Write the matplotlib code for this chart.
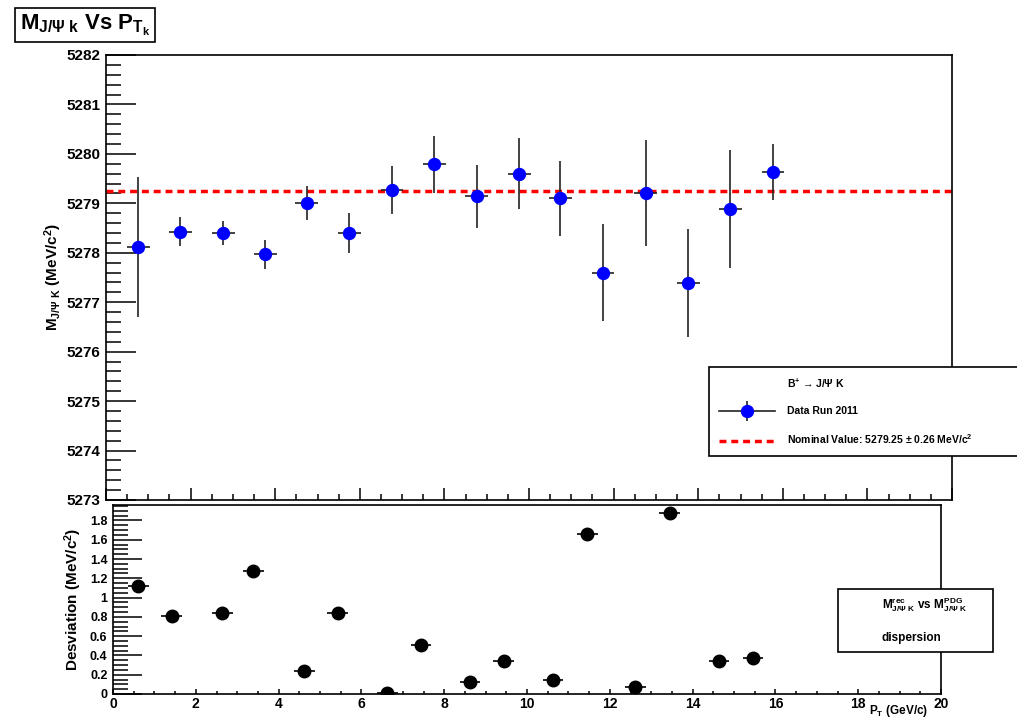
import matplotlib
matplotlib.use("Agg")
import matplotlib.pyplot as plt
from matplotlib.ticker import MultipleLocator
from matplotlib.lines import Line2D
from matplotlib.patches import Rectangle

plt.rcParams["font.family"] = ["Liberation Sans", "DejaVu Sans"]
plt.rcParams["font.weight"] = "bold"
plt.rcParams["axes.labelweight"] = "bold"
plt.rcParams["mathtext.fontset"] = "custom"
plt.rcParams["mathtext.rm"] = "Liberation Sans:bold"
plt.rcParams["mathtext.it"] = "Liberation Sans:bold"
plt.rcParams["mathtext.bf"] = "Liberation Sans:bold"

# top panel: reconstructed B+ mass per pT bin
pt_top = [0.76, 1.76, 2.77, 3.77, 4.74, 5.75, 6.76, 7.76, 8.76, 9.77,
          10.74, 11.75, 12.76, 13.77, 14.76, 15.77]
pt_top_err = [0.27] * 16
mass = [5278.12, 5278.43, 5278.40, 5277.97, 5279.01, 5278.40, 5279.27, 5279.79,
        5279.14, 5279.60, 5279.10, 5277.60, 5279.21, 5277.39, 5278.89, 5279.63]
mass_err = [1.42, 0.29, 0.25, 0.29, 0.35, 0.41, 0.49, 0.58,
            0.64, 0.72, 0.76, 0.98, 1.08, 1.10, 1.19, 0.56]
nominal = 5279.25

# bottom panel: deviation from PDG value
pt_bot = [0.61, 1.42, 2.64, 3.39, 4.62, 5.43, 6.63, 7.44,
          8.62, 9.44, 10.63, 11.46, 12.62, 13.45, 14.64, 15.46]
pt_bot_err = [0.25] * 16
dev = [1.12, 0.81, 0.84, 1.28, 0.24, 0.84, 0.01, 0.51,
       0.12, 0.34, 0.15, 1.66, 0.07, 1.88, 0.34, 0.37]
dev_err = [0.05] * 16

W, H = 1017, 717
fig = plt.figure(figsize=(W / 100, H / 100), dpi=100)

ax1 = fig.add_axes([106 / W, 1 - 500 / H, 846 / W, 445 / H])
ax2 = fig.add_axes([113 / W, 1 - 694 / H, 828 / W, 189 / H])
ax2.set_zorder(2)

# ---- top panel
ax1.errorbar(pt_top, mass, xerr=pt_top_err, yerr=mass_err, fmt="o",
             color="#0000ff", mec="#0000ff", ms=8.6, ecolor="#222222",
             elinewidth=1.2, capsize=0, zorder=3)
ln = ax1.axhline(nominal, color="#ff0000", lw=2.5, ls=(0, (2, 1.4)), zorder=2)
ax1.set_xlim(0, 20)
ax1.set_ylim(5273, 5282)
ax1.yaxis.set_major_locator(MultipleLocator(1))
ax1.yaxis.set_minor_locator(MultipleLocator(0.2))
ax1.xaxis.set_major_locator(MultipleLocator(2))
ax1.xaxis.set_minor_locator(MultipleLocator(0.5))
ax1.tick_params(axis="y", which="major", direction="in", length=21.5, width=1.1,
                labelsize=11, pad=4)
ax1.tick_params(axis="y", which="minor", direction="in", length=10.8, width=1.1)
ax1.tick_params(axis="x", which="major", direction="in", length=8.6, width=1.1,
                labelbottom=False)
ax1.tick_params(axis="x", which="minor", direction="in", length=4.3, width=1.1)
for s in ax1.spines.values():
    s.set_linewidth(1.2)
ax1.set_ylabel(r"M$_{\mathrm{J/\Psi\ K}}$ (MeV/c$^{2}$)", fontsize=11)
ax1.yaxis.set_label_coords(-0.05, 0.5)

# ---- bottom panel
ax2.errorbar(pt_bot, dev, xerr=pt_bot_err, yerr=dev_err, fmt="o", color="black",
             ms=9, ecolor="black", elinewidth=1.2, capsize=0, zorder=3)
ax2.set_xlim(0, 20)
ax2.set_ylim(0, 1.96)
ax2.xaxis.set_major_locator(MultipleLocator(2))
ax2.xaxis.set_minor_locator(MultipleLocator(0.5))
ax2.yaxis.set_minor_locator(MultipleLocator(0.05))
ax2.set_yticks([0, 0.2, 0.4, 0.6, 0.8, 1.0, 1.2, 1.4, 1.6, 1.8])
ax2.set_yticklabels(["0", "0.2", "0.4", "0.6", "0.8", "1", "1.2", "1.4", "1.6", "1.8"])
ax2.tick_params(axis="y", which="major", direction="in", length=21, width=1.1,
                labelsize=9, pad=4)
ax2.tick_params(axis="y", which="minor", direction="in", length=10.8, width=1.1)
ax2.tick_params(axis="x", which="major", direction="in", length=3.6, width=1.1,
                labelsize=10, pad=2)
ax2.tick_params(axis="x", which="minor", direction="in", length=2.4, width=1.1)
for s in ax2.spines.values():
    s.set_linewidth(1.2)
ax2.set_ylabel(r"Desviation (MeV/c$^{2}$)", fontsize=11)
ax2.yaxis.set_label_coords(-0.035, 0.5)
ax2.set_xlabel(r"P$_{\mathrm{T}}$ (GeV/c)", fontsize=8.5, loc="right")
ax2.xaxis.set_label_coords(0.985, -0.045)

# ---- legends / boxes
header = Line2D([], [], ls="none")
h_line = Line2D([], [], color="#222222", lw=1.2)
h_vert = Line2D([], [], ls="none", marker="|", ms=15, mew=1.2, color="#222222")
h_dot = Line2D([], [], ls="none", marker="o", ms=8.6, color="#0000ff")
leg = fig.legend([header, (h_line, h_vert, h_dot), ln],
                 [r"B$^{+}$ → J/Ψ K", "Data Run 2011",
                  r"Nominal Value: 5279.25 ± 0.26 MeV/c$^{2}$"],
                 loc="upper left", bbox_to_anchor=(709 / W, 1 - 367 / H, 0.33, 0),
                 mode="expand", borderaxespad=0, fontsize=7.5, labelspacing=1.55,
                 handlelength=5.4, handletextpad=1.1, borderpad=0.95,
                 fancybox=False, edgecolor="black", framealpha=1)
leg.get_frame().set_linewidth(1.2)
leg.set_zorder(5)

box = Rectangle((838 / W, 1 - 652 / H), 155 / W, 63 / H, transform=fig.transFigure,
                facecolor="white", edgecolor="black", lw=1.2, zorder=5)
fig.add_artist(box)
fig.text(882 / W, 1 - 605 / H,
         r"$\mathrm{M}^{\mathrm{rec}}_{\mathrm{J/\Psi\ K}}$ vs "
         r"$\mathrm{M}^{\mathrm{PDG}}_{\mathrm{J/\Psi\ K}}$",
         fontsize=8.5, ha="left", va="center", zorder=6)
fig.text(882 / W, 1 - 638 / H, "dispersion", fontsize=8.5, ha="left",
         va="center", zorder=6)

fig.text(85 / W, 1 - 25 / H,
         r"$\mathrm{M}_{\mathrm{J/\Psi\ k}}$ Vs P$_{\mathrm{T}_{\mathrm{k}}}$",
         fontsize=16, ha="center", va="center",
         bbox=dict(boxstyle="square,pad=0.2", facecolor="white",
                   edgecolor="black", lw=1.2))

fig.savefig("out.png", dpi=100)
